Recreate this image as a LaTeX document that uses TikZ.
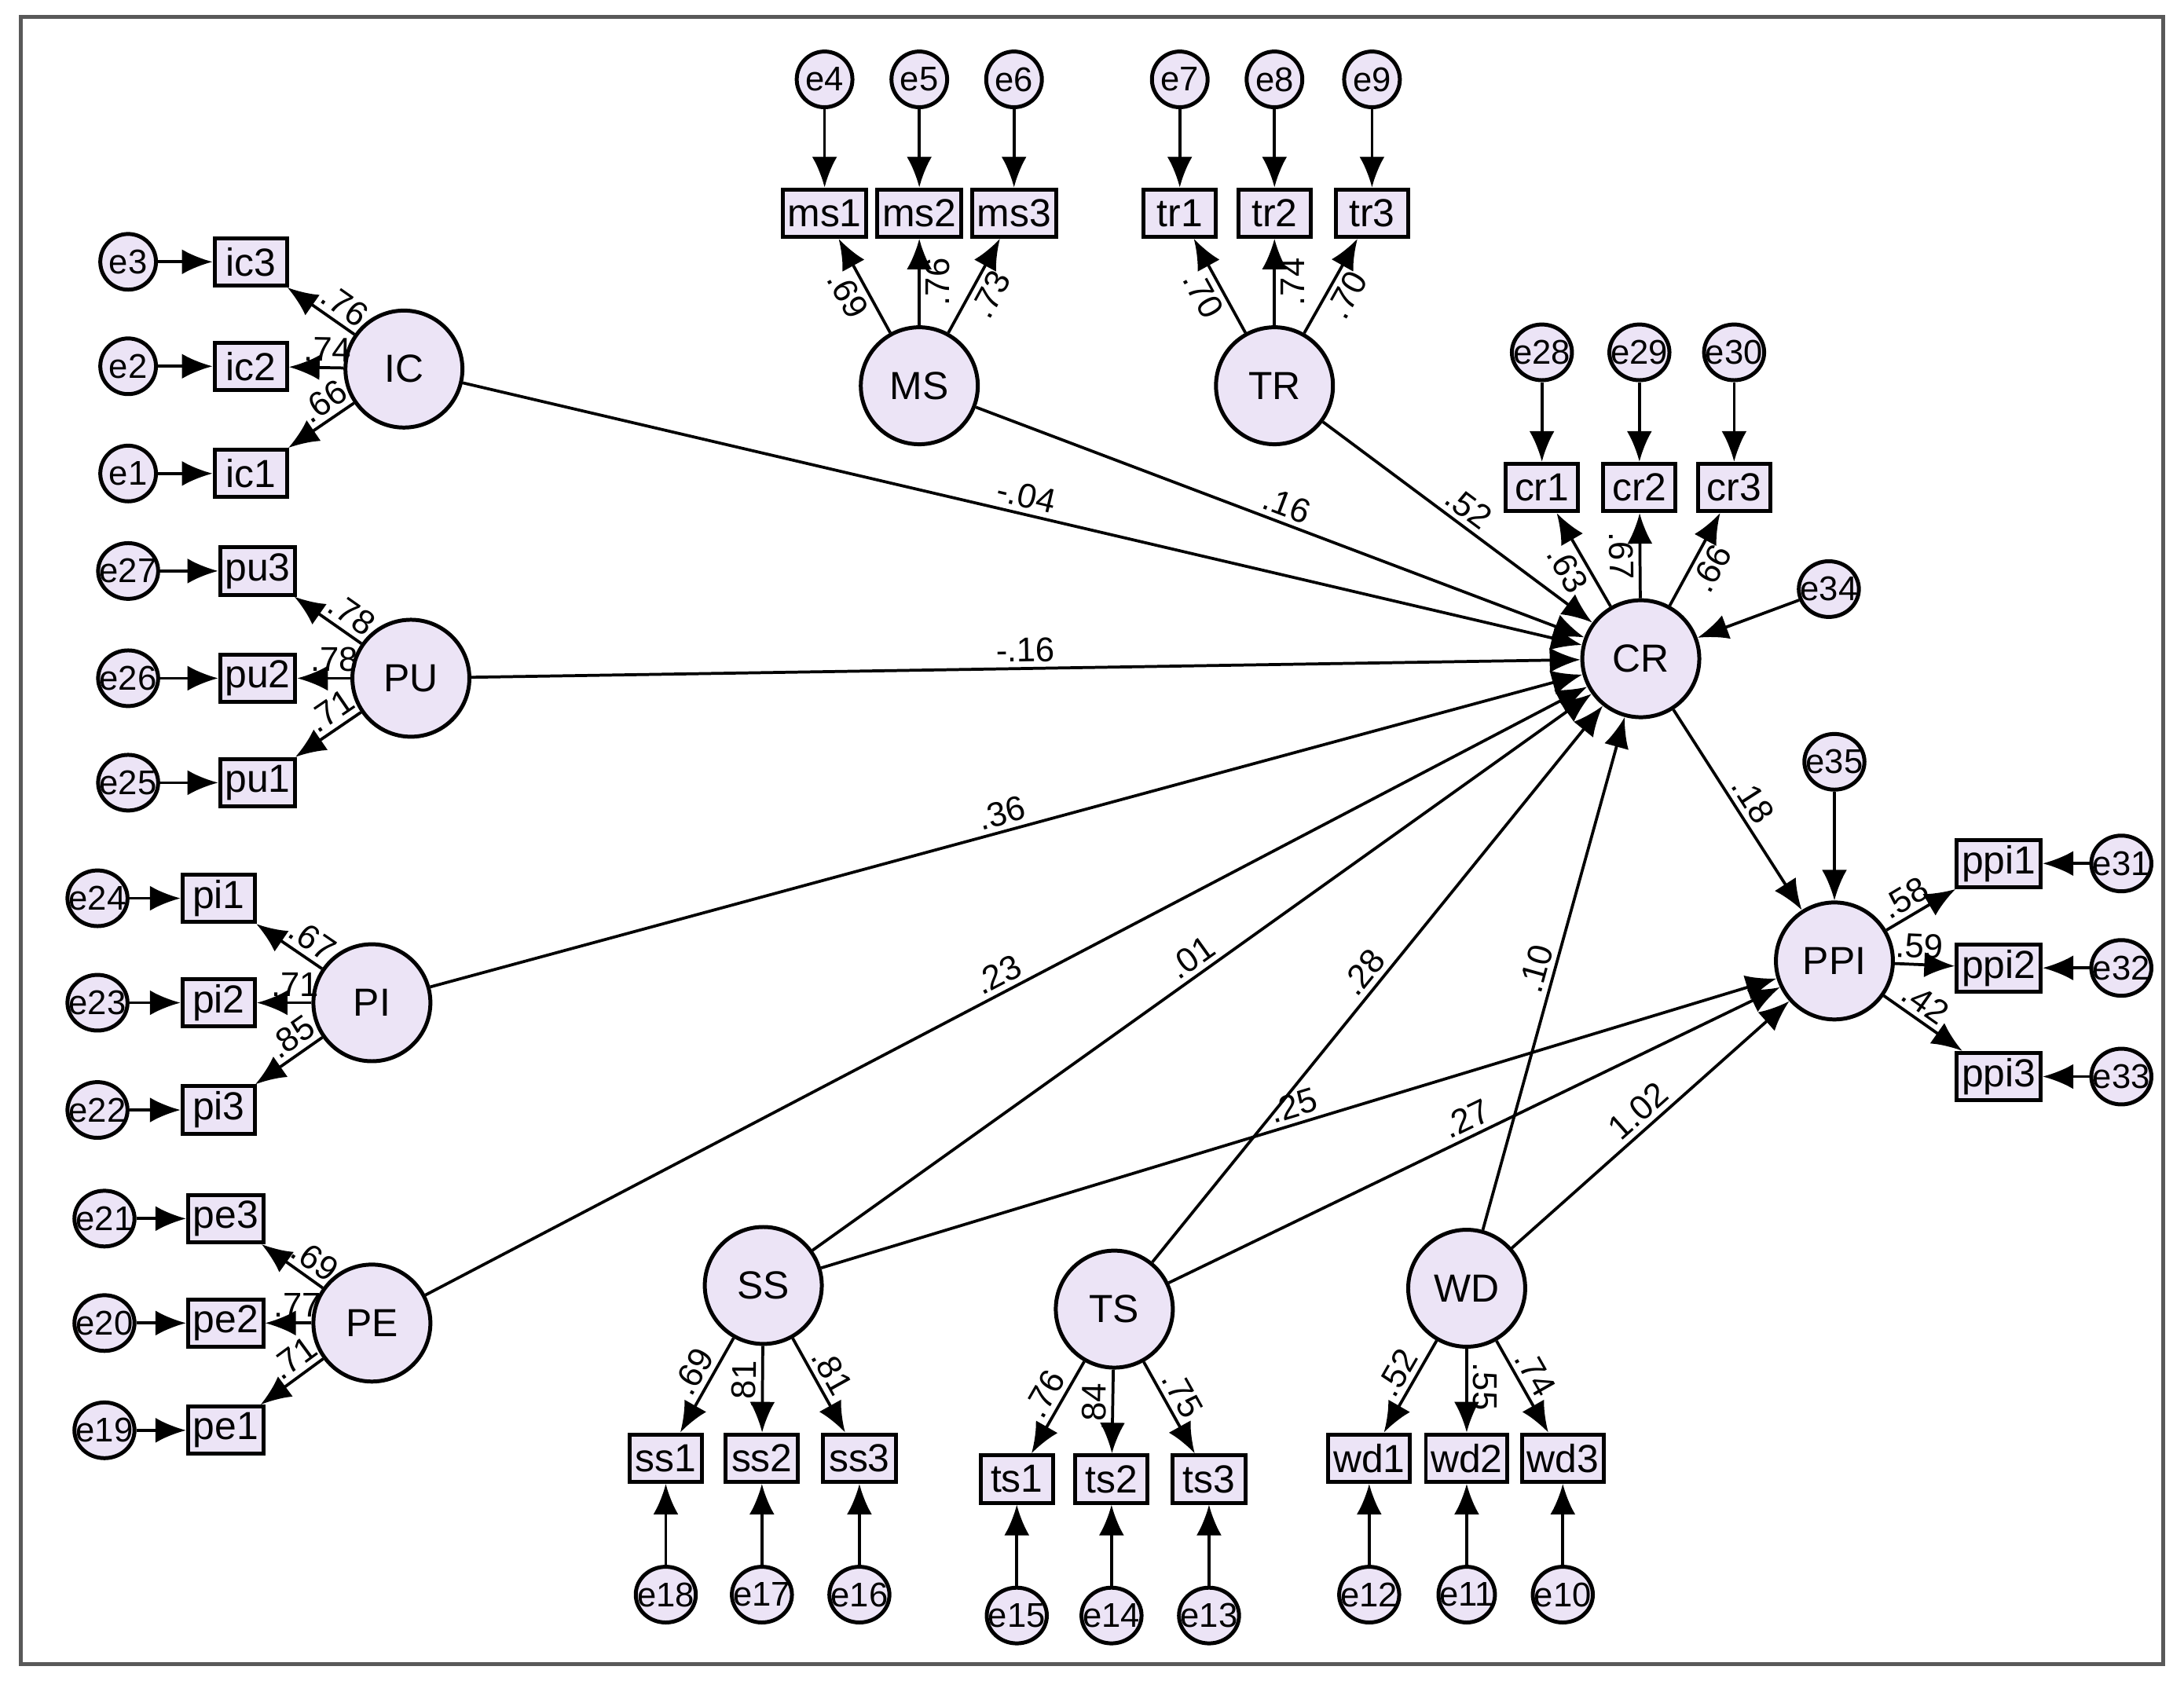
\documentclass[tikz,border=0pt]{standalone}
\usepackage{fontspec}
\setmainfont{Liberation Sans}
\usetikzlibrary{positioning,arrows.meta,shapes.geometric}
\definecolor{lav}{RGB}{236,228,246}
\begin{document}
\begin{tikzpicture}[x=1cm,y=-1cm,
    latent/.style={circle, draw, thick, fill=lav, minimum size=0.84cm, inner sep=0pt, font=\fontsize{8}{9}\selectfont},
    obs/.style={rectangle, draw, thick, fill=lav, minimum width=0.52cm, minimum height=0.34cm, inner sep=1pt, font=\fontsize{8}{9}\selectfont},
    err/.style={ellipse, draw, thick, fill=lav, minimum width=0.40cm, minimum height=0.40cm, inner sep=-1.5pt, font=\fontsize{7}{8}\selectfont},
    path/.style={-{Latex[length=2.2mm,width=1.8mm]}, semithick},
    lab/.style={font=\fontsize{7}{8}\selectfont, sloped, above, inner sep=1pt}
]
\useasboundingbox (0,0) rectangle (15.68,12.07);
\draw[thick, gray!70!black] (0.15,0.12) rectangle (15.53,11.95);

% latent variables
\node [latent] (IC) at (2.90,2.65) {IC};
\node [latent] (PU) at (2.95,4.87) {PU};
\node [latent] (PI) at (2.67,7.20) {PI};
\node [latent] (PE) at (2.67,9.50) {PE};
\node [latent] (MS) at (6.60,2.77) {MS};
\node [latent] (TR) at (9.15,2.77) {TR};
\node [latent] (CR) at (11.78,4.73) {CR};
\node [latent] (PPI) at (13.17,6.90) {PPI};
\node [latent] (SS) at (5.48,9.23) {SS};
\node [latent] (TS) at (8.00,9.40) {TS};
\node [latent] (WD) at (10.53,9.25) {WD};

% left-side indicators: latent, name, y, box x, error x, loading, error id
\foreach \lv/\nm/\yy/\bx/\ex/\ld/\en in {
    IC/ic3/1.88/1.80/0.92/.76/e3, IC/ic2/2.63/1.80/0.92/.74/e2, IC/ic1/3.40/1.80/0.92/.66/e1,
    PU/pu3/4.10/1.85/0.92/.78/e27, PU/pu2/4.87/1.85/0.92/.78/e26, PU/pu1/5.62/1.85/0.92/.71/e25,
    PI/pi1/6.45/1.57/0.70/.67/e24, PI/pi2/7.20/1.57/0.70/.71/e23, PI/pi3/7.97/1.57/0.70/.85/e22,
    PE/pe3/8.75/1.62/0.75/.69/e21, PE/pe2/9.50/1.62/0.75/.77/e20, PE/pe1/10.27/1.62/0.75/.71/e19}{
  \node [obs] (\nm) at (\bx,\yy) {\nm};
  \node [err] (\en) at (\ex,\yy) {\en};
  \draw [path] (\en) -- (\nm);
  \draw [path] (\lv) -- node[lab, pos=0.3] {\ld} (\nm);
}

% right-side indicators
\foreach \nm/\yy/\ld/\en in {ppi1/6.20/.58/e31, ppi2/6.95/.59/e32, ppi3/7.73/.42/e33}{
  \node [obs] (\nm) at (14.35,\yy) {\nm};
  \node [err] (\en) at (15.23,\yy) {\en};
  \draw [path] (\en) -- (\nm);
  \draw [path] (PPI) -- node[lab, pos=0.4] {\ld} (\nm);
}

% top indicators
\foreach \lv/\nm/\xx/\ld/\en/\ey/\by in {
    MS/ms1/5.92/.69/e4/0.57/1.53, MS/ms2/6.60/.76/e5/0.57/1.53, MS/ms3/7.28/.73/e6/0.57/1.53,
    TR/tr1/8.47/.70/e7/0.57/1.53, TR/tr2/9.15/.74/e8/0.57/1.53, TR/tr3/9.85/.70/e9/0.57/1.53,
    CR/cr1/11.07/.63/e28/2.53/3.50, CR/cr2/11.77/.67/e29/2.53/3.50, CR/cr3/12.45/.66/e30/2.53/3.50}{
  \node [obs] (\nm) at (\xx,\by) {\nm};
  \node [err] (\en) at (\xx,\ey) {\en};
  \draw [path] (\en) -- (\nm);
  \draw [path] (\lv) -- node[lab, below, pos=0.5] {\ld} (\nm);
}

% bottom indicators
\foreach \lv/\nm/\xx/\ld/\en/\ey/\by in {
    SS/ss1/4.78/.69/e18/11.45/10.47, SS/ss2/5.47/.81/e17/11.45/10.47, SS/ss3/6.17/.81/e16/11.45/10.47,
    TS/ts1/7.30/.76/e15/11.60/10.62, TS/ts2/7.98/.84/e14/11.60/10.62, TS/ts3/8.68/.75/e13/11.60/10.62,
    WD/wd1/9.83/.52/e12/11.45/10.47, WD/wd2/10.53/.55/e11/11.45/10.47, WD/wd3/11.22/.74/e10/11.45/10.47}{
  \node [obs] (\nm) at (\xx,\by) {\nm};
  \node [err] (\en) at (\xx,\ey) {\en};
  \draw [path] (\en) -- (\nm);
  \draw [path] (\lv) -- node[lab, pos=0.45] {\ld} (\nm);
}

% disturbances
\node [err] (e34) at (13.13,4.23) {e34};
\node [err] (e35) at (13.17,5.47) {e35};
\draw [path] (e34) -- (CR);
\draw [path] (e35) -- (PPI);

% structural paths
\draw [path] (IC) -- node[lab, pos=0.5] {-.04} (CR);
\draw [path] (MS) -- node[lab, pos=0.5] {.16} (CR);
\draw [path] (TR) -- node[lab, pos=0.5] {.52} (CR);
\draw [path] (PU) -- node[lab, pos=0.5] {-.16} (CR);
\draw [path] (PI) -- node[lab, pos=0.5] {.36} (CR);
\draw [path] (PE) -- node[lab, pos=0.5] {.23} (CR);
\draw [path] (SS) -- node[lab, pos=0.5] {.01} (CR);
\draw [path] (TS) -- node[lab, pos=0.5] {.28} (CR);
\draw [path] (WD) -- node[lab, pos=0.5] {.10} (CR);
\draw [path] (CR) -- node[lab, pos=0.5] {.18} (PPI);
\draw [path] (SS) -- node[lab, pos=0.5] {.25} (PPI);
\draw [path] (TS) -- node[lab, pos=0.5] {.27} (PPI);
\draw [path] (WD) -- node[lab, pos=0.5] {1.02} (PPI);
\end{tikzpicture}
\end{document}
